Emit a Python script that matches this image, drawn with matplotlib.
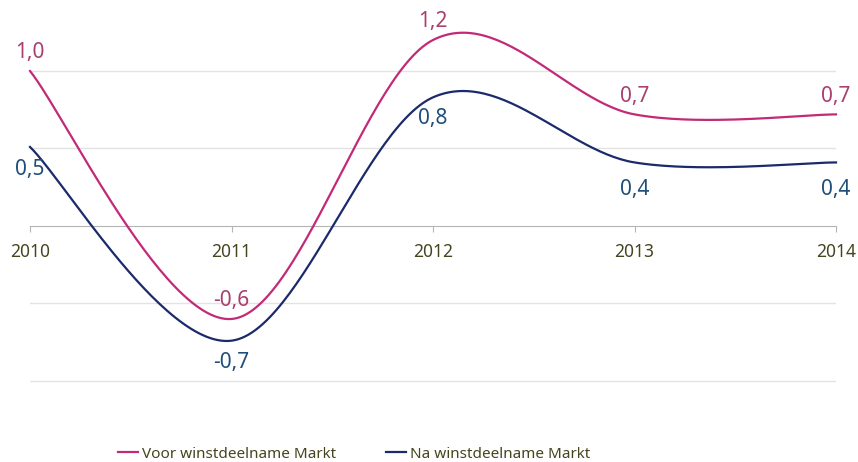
import numpy as np
import matplotlib
matplotlib.use("Agg")
import matplotlib.pyplot as plt

plt.rcParams["font.family"] = ["Noto Sans", "DejaVu Sans"]

years = [2010, 2011, 2012, 2013, 2014]
voor = [1.0, -0.6, 1.2, 0.72, 0.72]
na = [0.51, -0.74, 0.83, 0.41, 0.41]
names = ["Voor winstdeelname Markt", "Na winstdeelname Markt"]

line_cols = ["#c22a78", "#1b2a6b"]
label_cols = ["#a83f6f", "#1f4e7a"]
tick_col = "#45451f"

# label offsets in pixels (above for Voor, below for Na)
voor_dy = [18, 18, 18, 18, 18]
na_dy = [-23, -22, -21, -27, -27]


def smooth(x, y, n=60):
    # excel-like smoothed line: cubic bezier with catmull-rom control points
    x = np.asarray(x, float)
    y = np.asarray(y, float)
    px = np.concatenate([[x[0]], x, [x[-1]]])
    py = np.concatenate([[y[0]], y, [y[-1]]])
    t = np.linspace(0, 1, n)[:, None]
    xs, ys = [], []
    for i in range(1, len(x)):
        p0 = np.array([px[i], py[i]])
        p3 = np.array([px[i + 1], py[i + 1]])
        c1 = p0 + (p3 - np.array([px[i - 1], py[i - 1]])) / 6
        c2 = p3 - (np.array([px[i + 2], py[i + 2]]) - p0) / 6
        b = ((1 - t) ** 3) * p0 + 3 * ((1 - t) ** 2) * t * c1 \
            + 3 * (1 - t) * t ** 2 * c2 + t ** 3 * p3
        xs.append(b[:, 0])
        ys.append(b[:, 1])
    return np.concatenate(xs), np.concatenate(ys)


fig = plt.figure(figsize=(8.58, 4.62), dpi=100)
ax = fig.add_axes([30 / 858, 0.0747, 806 / 858, 0.9226])
ax.set_xlim(2010, 2014)
ax.set_ylim(-1.3, 1.45)

for g in [-1.0, -0.5, 0.5, 1.0]:
    ax.axhline(g, color="#e3e3e3", lw=1, zorder=0)

handles = []
for vals, lc, tc, dys in [(voor, line_cols[0], label_cols[0], voor_dy),
                          (na, line_cols[1], label_cols[1], na_dy)]:
    sx, sy = smooth(years, vals)
    h, = ax.plot(sx, sy, color=lc, lw=1.6, clip_on=False, zorder=3)
    handles.append(h)
    for xv, yv, dy in zip(years, vals, dys):
        ax.annotate(f"{yv:.1f}".replace(".", ","), (xv, yv),
                    xytext=(0, dy), textcoords="offset pixels",
                    ha="center", va="center", color=tc, fontsize=15)

for s in ["top", "right", "left"]:
    ax.spines[s].set_visible(False)
ax.spines["bottom"].set_position(("data", 0))
ax.spines["bottom"].set_color("#b5b5b5")
ax.spines["bottom"].set_zorder(1)
ax.set_yticks([])
ax.set_xticks(years)
ax.set_xticklabels([str(y) for y in years])
ax.tick_params(axis="x", length=4, color="#b5b5b5", pad=8,
               labelsize=12.5, labelcolor=tick_col)

fig.legend(handles, names, loc="center", bbox_to_anchor=(354 / 858, 1 - 454 / 462),
           ncol=2, frameon=False, handlelength=1.3, handletextpad=0.25,
           columnspacing=3.3, fontsize=11, labelcolor=tick_col)

fig.savefig("out.png", dpi=100)
